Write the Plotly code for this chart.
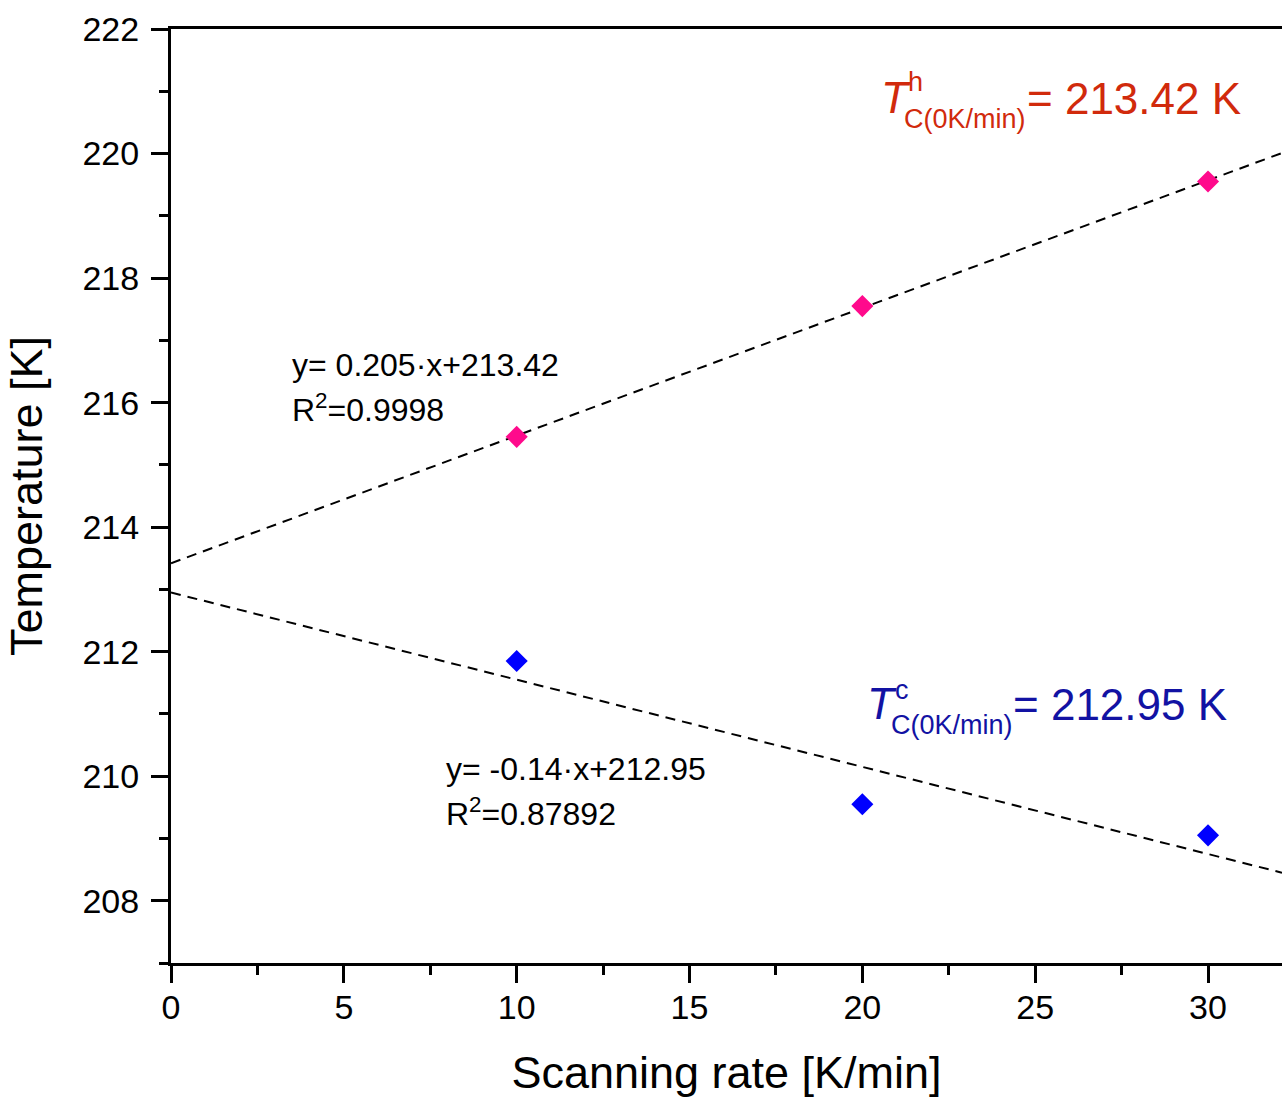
import numpy as np
import plotly.graph_objects as go

# ---- data ----
rate = [10, 20, 30]
t_heat = [215.45, 217.55, 219.55]
t_cool = [211.85, 209.55, 209.05]
fit_heat = [0.205, 213.42]   # slope, intercept
fit_cool = [-0.14, 212.95]
x_range = [0, 32.14]
y_range = [207, 222]
x_ticks = [0, 5, 10, 15, 20, 25, 30]
y_ticks = [208, 210, 212, 214, 216, 218, 220, 222]

FONT = "Arial, Liberation Sans, sans-serif"
RED = "#D12A0C"
DBLUE = "#1212A3"

W, H = 1282, 1098
L, R, T, B = 171, 0, 29, 135

def px(xp):
    return (xp - L) / (W - L - R)

def py(yp):
    return (H - B - yp) / (H - B - T)

fig = go.Figure()

xl = np.array(x_range)
for s, c in (fit_heat, fit_cool):
    fig.add_trace(go.Scatter(x=xl, y=s * xl + c, mode="lines",
                             line=dict(color="black", width=2, dash="10px,7px"),
                             showlegend=False, hoverinfo="skip"))

fig.add_trace(go.Scatter(x=rate, y=t_heat, mode="markers",
                         marker=dict(symbol="diamond", size=17, color="#FF0A8C"),
                         showlegend=False))
fig.add_trace(go.Scatter(x=rate, y=t_cool, mode="markers",
                         marker=dict(symbol="diamond", size=17, color="#0000FF"),
                         showlegend=False))

ann = []
def add(text, xp, yp, size, color="black", xanchor="left", yanchor="middle"):
    ann.append(dict(text=text, x=px(xp), y=py(yp), xref="paper", yref="paper",
                    xanchor=xanchor, yanchor=yanchor, showarrow=False,
                    font=dict(family=FONT, size=size, color=color)))

# fit equations
add("y= 0.205·x+213.42", 290, 365, 32)
add("R<sup>2</sup>=0.9998", 290, 408, 32)
add("y= -0.14·x+212.95", 444, 769, 32)
add("R<sup>2</sup>=0.87892", 444, 812, 32)

# heating extrapolation label
add("<i>T</i>", 879, 97, 44, RED)
add("h", 906, 82, 27, RED)
add("C(0K/min)", 902, 119, 27, RED)
add("= 213.42 K", 1025, 98, 44, RED)

# cooling extrapolation label
add("<i>T</i>", 865, 703, 44, DBLUE)
add("c", 893, 690, 27, DBLUE)
add("C(0K/min)", 889, 725, 27, DBLUE)
add("= 212.95 K", 1011, 704, 44, DBLUE)

axis_common = dict(showline=True, linecolor="black", linewidth=3,
                   ticks="outside", ticklen=17, tickwidth=3, tickcolor="black",
                   showgrid=False, zeroline=False,
                   tickfont=dict(family=FONT, size=34, color="black"))

fig.update_layout(
    width=W, height=H,
    margin=dict(l=L, r=R, t=T, b=B),
    paper_bgcolor="white", plot_bgcolor="white",
    font=dict(family=FONT, color="black"),
    annotations=ann,
    xaxis=dict(range=x_range, tickvals=x_ticks, mirror=True,
               ticklabelstandoff=-5,
               minor=dict(dtick=2.5, tick0=0, ticks="outside", ticklen=9,
                          tickwidth=3, tickcolor="black"),
               title=dict(text="Scanning rate [K/min]",
                          font=dict(family=FONT, size=45), standoff=33),
               **axis_common),
    yaxis=dict(range=y_range, tickvals=y_ticks,
               ticklabelstandoff=5,
               minor=dict(dtick=1, tick0=207, ticks="outside", ticklen=9,
                          tickwidth=3, tickcolor="black"),
               title=dict(text="Temperature [K]",
                          font=dict(family=FONT, size=45), standoff=26),
               **axis_common),
)

fig.write_html("out.html")
